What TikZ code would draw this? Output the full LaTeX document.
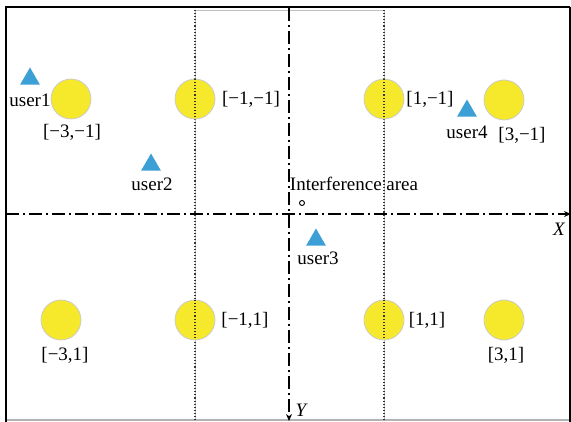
\documentclass[tikz,border=0pt]{standalone}
\usepackage{fontspec}
\setmainfont{Liberation Serif}
\usetikzlibrary{arrows.meta, shapes.geometric}
\tikzset{
  station/.style={circle, fill=stationyellow, draw=gray!40, line width=0.8pt, minimum size=40pt, inner sep=0pt},
  userbox/.style={regular polygon, regular polygon sides=3, fill=userblue, inner sep=0pt, minimum size=23pt},
  axisline/.style={line width=1.7pt, dash pattern=on 13pt off 4pt on 2pt off 4pt, -{Stealth[length=7pt,width=6pt]}},
  gridline/.style={black!80, line width=1.1pt, dash pattern=on 1.1pt off 2pt},
  tag/.style={font=\fontsize{19}{22}\selectfont, inner sep=0pt}
}
\definecolor{stationyellow}{HTML}{F6E82A}
\definecolor{userblue}{HTML}{3C9FD6}

\begin{document}
\begin{tikzpicture}[x=1pt, y=-1pt]
\useasboundingbox (0,0) rectangle (571,422);
\fill[white] (0,0) rectangle (571,422);

% frame
\draw[gray!60, line width=1pt] (6,420) -- (570,420);
\draw[line width=2.2pt] (6,422) -- (6,7) -- (570,7);
\draw[line width=1.4pt] (570,7) -- (570,422);

% interference area
\draw[gray!50, line width=0.8pt] (195,420) -- (195,10) -- (384,10) -- (384,420);
\draw[gridline] (195,10) -- (195,420);
\draw[gridline] (384,10) -- (384,420);

% base stations
\node[station] (s1) at (71,99) {};
\node[station] (s2) at (195,99) {};
\node[station] (s3) at (384,99) {};
\node[station] (s4) at (504,100) {};
\node[station] (s5) at (61,320) {};
\node[station] (s6) at (195,320) {};
\node[station] (s7) at (384,320) {};
\node[station] (s8) at (504,320) {};
\draw[gridline] (195,79) -- (195,119);
\draw[gridline] (384,79) -- (384,119);
\draw[gridline] (195,300) -- (195,340);
\draw[gridline] (384,300) -- (384,340);

\node[tag] (l1) at (72,132) {[−3,−1]};
\node[tag] (l2) at (251,99) {[−1,−1]};
\node[tag] (l3) at (430,99) {[1,−1]};
\node[tag] (l4) at (522,135) {[3,−1]};
\node[tag] (l5) at (65,355) {[−3,1]};
\node[tag] (l6) at (245,320) {[−1,1]};
\node[tag] (l7) at (427,320) {[1,1]};
\node[tag] (l8) at (506,355) {[3,1]};

% axes
\coordinate (xs) at (6,214);
\coordinate (xe) at (571,214);
\coordinate (ys) at (289,8);
\coordinate (ye) at (289,421);
\draw[axisline] (xs) -- (xe);
\draw[axisline] (ys) -- (ye);
\node[tag, font=\fontsize{19}{22}\selectfont\itshape] (xl) at (559,229) {X};
\node[tag, font=\fontsize{19}{22}\selectfont\itshape] (yl) at (301,410) {Y};

% users
\node[userbox] (u1) at (30,79) {};
\node[userbox] (u2) at (151,165) {};
\node[userbox] (u3) at (316,240) {};
\node[userbox] (u4) at (467,111) {};
\node[tag] (t1) at (30,100) {user1};
\node[tag] (t2) at (152,184) {user2};
\node[tag] (t3) at (318,258) {user3};
\node[tag] (t4) at (467,132) {user4};

\node[tag] (ia) at (354,184) {Interference area};
\node[circle, draw, line width=0.9pt, inner sep=0pt, minimum size=5pt] (io) at (302,203) {};
\end{tikzpicture}
\end{document}
